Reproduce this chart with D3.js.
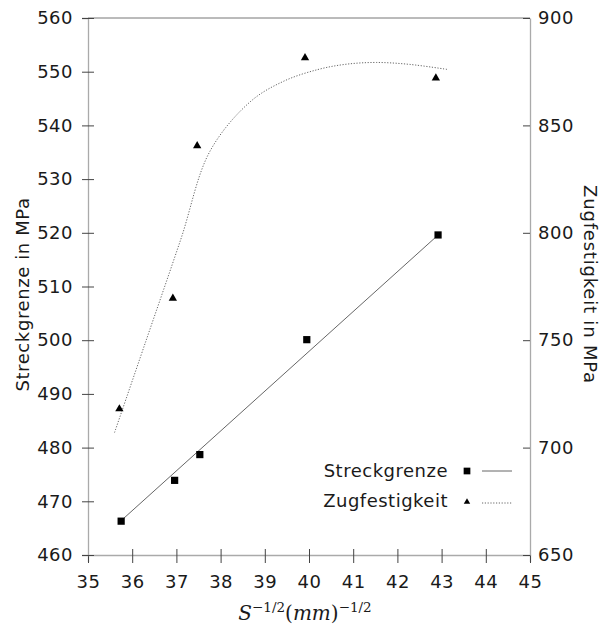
<!DOCTYPE html>
<html>
<head>
<meta charset="utf-8">
<script src="https://cdn.jsdelivr.net/npm/d3@7"></script>
<style>
  body { margin: 0; background: #fff; }
  text { font-family: "DejaVu Sans", sans-serif; fill: #1a1a1a; letter-spacing: 0.5px; }
</style>
</head>
<body>
<div id="chart"></div>
<script>
// values
const sX = [35.75, 36.96, 37.53, 39.95, 42.92];
const sY = [466.3, 473.9, 478.7, 500.1, 519.6];          // Streckgrenze
const sFitX = [35.75, 42.95];
const sFitY = [466.4, 519.8];

const zX = [35.71, 36.92, 37.47, 39.91, 42.87];
const zY = [718, 769.5, 840.5, 881.5, 872];               // Zugfestigkeit
const zFitX = [35.6, 36.3, 37.1, 37.76, 38.67, 39.42, 40.2, 40.85, 41.53, 42.28, 43.15];
const zFitY = [707, 749, 797, 838, 861, 870.5, 876, 878.5, 879.3, 878.4, 876];

const xTicks = [35, 36, 37, 38, 39, 40, 41, 42, 43, 44, 45];
const yLeftTicks = [460, 470, 480, 490, 500, 510, 520, 530, 540, 550, 560];
const yRightTicks = [650, 700, 750, 800, 850, 900];

const W = 604, H = 625;
const plotLeft = 88, plotRight = 530, plotTop = 18, plotBottom = 555;

const svg = d3.select("#chart").append("svg")
  .attr("width", W)
  .attr("height", H);

const x = d3.scaleLinear().domain([35, 45]).range([plotLeft, plotRight]);
const yL = d3.scaleLinear().domain([460, 560]).range([plotBottom, plotTop]);
const yR = d3.scaleLinear().domain([650, 900]).range([plotBottom, plotTop]);

// frame: top border
svg.append("line")
  .attr("x1", plotLeft).attr("x2", plotRight)
  .attr("y1", plotTop).attr("y2", plotTop)
  .attr("stroke", "#777").attr("stroke-width", 1);

// bottom axis
const gx = svg.append("g")
  .attr("transform", `translate(0,${plotBottom})`)
  .call(d3.axisBottom(x).tickValues(xTicks).tickSize(7).tickFormat(d3.format("d")));
gx.select(".domain").attr("stroke", "#aaa").attr("stroke-width", 1.3);
gx.selectAll(".tick line").attr("y1", -6).attr("y2", 8).attr("stroke", "#444");
gx.selectAll(".tick text")
  .attr("y", 20).attr("dy", "0.71em")
  .style("font-size", "18px");

// left axis
const gl = svg.append("g")
  .attr("transform", `translate(${plotLeft},0)`)
  .call(d3.axisLeft(yL).tickValues(yLeftTicks).tickSize(6));
gl.select(".domain").attr("stroke", "#aaa").attr("stroke-width", 1.3);
gl.selectAll(".tick line").attr("x1", 6).attr("x2", -6).attr("stroke", "#444");
gl.selectAll(".tick text")
  .attr("x", -15)
  .style("font-size", "18px");

// right axis (ticks pointing inward)
const gr = svg.append("g")
  .attr("transform", `translate(${plotRight},0)`)
  .call(d3.axisRight(yR).tickValues(yRightTicks).tickSize(0));
gr.select(".domain").attr("stroke", "#aaa").attr("stroke-width", 1.3);
gr.selectAll(".tick line").attr("x1", -7).attr("x2", 0).attr("stroke", "#444");
gr.selectAll(".tick text")
  .attr("x", 8)
  .style("font-size", "18px");

// axis titles
svg.append("text")
  .attr("transform", `translate(28.5,${(plotTop + plotBottom) / 2 + 8}) rotate(-90)`)
  .attr("text-anchor", "middle")
  .style("font-size", "18px")
  .style("letter-spacing", "0.6px")
  .text("Streckgrenze in MPa");

svg.append("text")
  .attr("transform", `translate(584,${(plotTop + plotBottom) / 2 - 2}) rotate(90)`)
  .attr("text-anchor", "middle")
  .style("font-size", "18px")
  .style("letter-spacing", "0.8px")
  .text("Zugfestigkeit in MPa");

// x title, LaTeX-like
const xt = svg.append("text")
  .attr("x", 305).attr("y", 620)
  .attr("text-anchor", "middle")
  .style("font-family", "'DejaVu Serif', serif")
  .style("letter-spacing", "0px")
  .style("font-size", "20px");
xt.append("tspan").style("font-style", "italic").text("S");
xt.append("tspan").attr("dy", -8).style("font-size", "13.5px").text("−1/2");
xt.append("tspan").attr("dy", 8).text("(");
xt.append("tspan").style("font-style", "italic").text("mm");
xt.append("tspan").text(")");
xt.append("tspan").attr("dy", -8).style("font-size", "13.5px").text("−1/2");

// fit lines
const sFit = sFitX.map((v, i) => [v, sFitY[i]]);
svg.append("path")
  .datum(sFit)
  .attr("fill", "none")
  .attr("stroke", "#555")
  .attr("stroke-width", 0.9)
  .attr("d", d3.line().x(d => x(d[0])).y(d => yL(d[1])));

const zFit = zFitX.map((v, i) => [v, zFitY[i]]);
svg.append("path")
  .datum(zFit)
  .attr("fill", "none")
  .attr("stroke", "#555")
  .attr("stroke-width", 0.9)
  .attr("stroke-dasharray", "1.2,1.6")
  .attr("d", d3.line().curve(d3.curveCatmullRom).x(d => x(d[0])).y(d => yR(d[1])));

// markers
const square = d3.symbol().type(d3.symbolSquare).size(52);
const triangle = d3.symbol().type(d3.symbolTriangle).size(30);

svg.selectAll(".sq")
  .data(sX.map((v, i) => [v, sY[i]]))
  .enter().append("path")
  .attr("class", "sq")
  .attr("d", square)
  .attr("transform", d => `translate(${x(d[0])},${yL(d[1])})`)
  .attr("fill", "#000");

svg.selectAll(".tri")
  .data(zX.map((v, i) => [v, zY[i]]))
  .enter().append("path")
  .attr("class", "tri")
  .attr("d", triangle)
  .attr("transform", d => `translate(${x(d[0])},${yR(d[1])})`)
  .attr("fill", "#000");

// legend
const legend = svg.append("g");
legend.append("text")
  .attr("x", 448).attr("y", 477)
  .attr("text-anchor", "end")
  .style("font-size", "18px")
  .text("Streckgrenze");
legend.append("path")
  .attr("d", d3.symbol().type(d3.symbolSquare).size(45))
  .attr("transform", "translate(467,471)")
  .attr("fill", "#000");
legend.append("line")
  .attr("x1", 482).attr("x2", 512)
  .attr("y1", 471).attr("y2", 471)
  .attr("stroke", "#555").attr("stroke-width", 0.9);

legend.append("text")
  .attr("x", 448).attr("y", 507)
  .attr("text-anchor", "end")
  .style("font-size", "18px")
  .text("Zugfestigkeit");
legend.append("path")
  .attr("d", d3.symbol().type(d3.symbolTriangle).size(18))
  .attr("transform", "translate(467,502)")
  .attr("fill", "#000");
legend.append("line")
  .attr("x1", 482).attr("x2", 512)
  .attr("y1", 503).attr("y2", 503)
  .attr("stroke", "#555").attr("stroke-width", 0.9)
  .attr("stroke-dasharray", "1.2,1.6");
</script>
</body>
</html>
